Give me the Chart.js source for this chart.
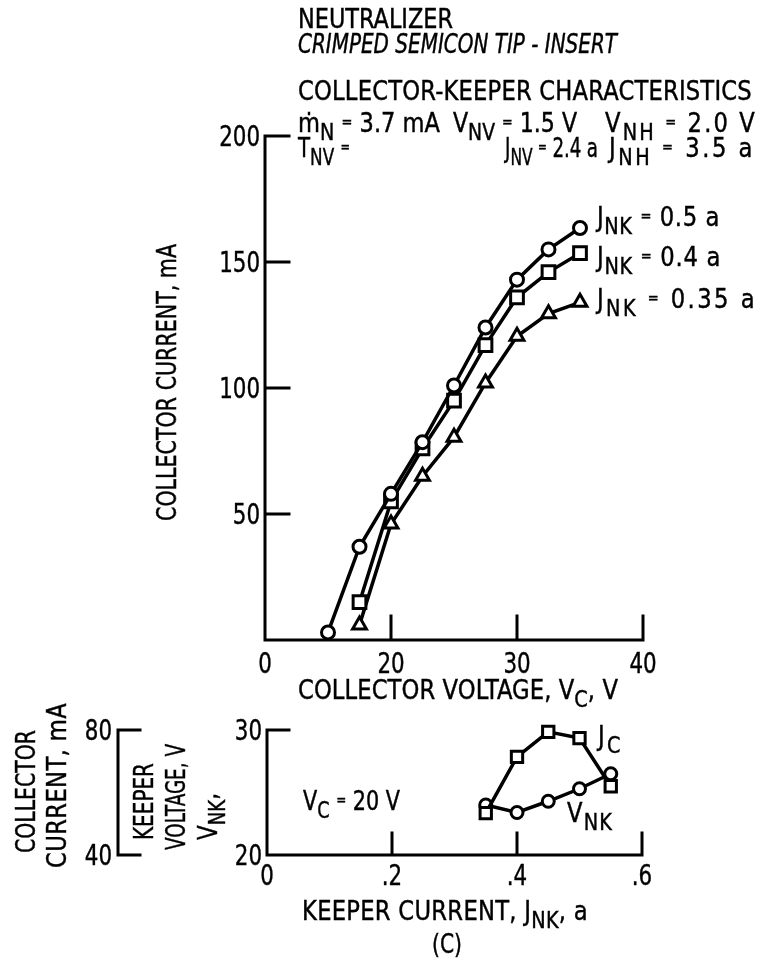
<!DOCTYPE html>
<html>
<head>
<meta charset="utf-8">
<script src="https://cdn.jsdelivr.net/npm/chart.js@4/dist/chart.umd.min.js"></script>
<style>
  html, body { margin: 0; padding: 0; background: #fff; }
  body {
    width: 775px; height: 978px; position: relative; overflow: hidden;
    font-family: "DejaVu Sans Condensed", "DejaVu Sans", sans-serif; color: #000;
  }
  canvas { position: absolute; left: 0; }
  #main { top: 0; }
  #keeper { top: 700px; }
  .t {
    position: absolute; font-size: 26px; line-height: 26px; white-space: nowrap;
    -webkit-text-stroke: 0.4px #000; transform-origin: 0 0;
  }
  .t sub { font-size: 0.85em; vertical-align: -0.38em; line-height: 0; }
  .t .eq { font-size: 15px; vertical-align: 5px; line-height: 0; }
  .it { font-style: italic; }
</style>
</head>
<body>
<canvas id="main" width="775" height="700"></canvas>
<canvas id="keeper" width="775" height="278"></canvas>

<!-- horizontal labels: top = baseline - 22, data-w = printed width -->
<div class="t" data-w="155" style="left:298px; top:6px;">NEUTRALIZER</div>
<div class="t it" data-w="319" style="left:298px; top:31px;">CRIMPED SEMICON TIP - INSERT</div>
<div class="t" data-w="454" style="left:298px; top:78px;">COLLECTOR-KEEPER CHARACTERISTICS</div>
<div class="t" data-w="142" style="left:298px; top:110px;">ṁ<sub>N</sub> <span class="eq">=</span> 3.7 mA</div>
<div class="t" data-w="124" style="left:453px; top:110px;">V<sub>NV</sub> <span class="eq">=</span> 1.5 V</div>
<div class="t" data-w="152" style="left:605px; top:110px;">V<sub>NH</sub> <span class="eq">=</span> 2.0 V</div>
<div class="t" data-w="52" style="left:298px; top:135px;">T<sub>NV</sub> <span class="eq">=</span></div>
<div class="t" data-w="93" style="left:505px; top:135px;">J<sub>NV</sub> <span class="eq">=</span> 2.4 a</div>
<div class="t" data-w="146" style="left:609px; top:135px;">J<sub>NH</sub> <span class="eq">=</span> 3.5 a</div>

<div class="t" data-w="123" style="left:597px; top:204px;">J<sub>NK</sub> <span class="eq">=</span> 0.5 a</div>
<div class="t" data-w="124" style="left:597px; top:244px;">J<sub>NK</sub> <span class="eq">=</span> 0.4 a</div>
<div class="t" data-w="160" style="left:597px; top:286px;">J<sub>NK</sub> <span class="eq">=</span> 0.35 a</div>

<div class="t" data-w="320" style="left:298px; top:677px;">COLLECTOR VOLTAGE, V<sub>C</sub>, V</div>

<div class="t" data-w="97" style="left:303px; top:788px;">V<sub>C</sub> <span class="eq">=</span> 20 V</div>
<div class="t" data-w="25" style="left:598px; top:723px;">J<sub>C</sub></div>
<div class="t" data-w="46" style="left:567px; top:800px;">V<sub>NK</sub></div>
<div class="t" data-w="286" style="left:302px; top:898px;">KEEPER CURRENT, J<sub>NK</sub>, a</div>
<div class="t" data-w="30" style="left:432px; top:931px;">(C)</div>

<!-- rotated labels: left = line box left, top = where the text starts (bottom) -->
<div class="t" data-w="277" data-rot="1" style="left:154px; top:521px;">COLLECTOR CURRENT, mA</div>
<div class="t" data-w="123" data-rot="1" style="left:13px; top:853px;">COLLECTOR</div>
<div class="t" data-w="165" data-rot="1" style="left:44px; top:868px;">CURRENT, mA</div>
<div class="t" data-w="77" data-rot="1" style="left:131px; top:840px;">KEEPER</div>
<div class="t" data-w="106" data-rot="1" style="left:163px; top:850px;">VOLTAGE, V</div>
<div class="t" data-w="47" data-rot="1" style="left:195px; top:840px;">V<sub>NK</sub>,</div>

<script>
// collector characteristics, one series per keeper current
const collectorVoltage = [15, 17.5, 20, 22.5, 25, 27.5, 30, 32.5, 35];
const currentKeeper050 = [3, 37, 58, 78.5, 101, 124, 143, 155, 163.5];
const currentKeeper040 = [null, 15, 55, 76, 95, 117, 136, 146, 153.5];
const currentKeeper035 = [null, 6, 46, 65, 80.5, 102, 120.5, 129.5, 134];

// axis values and the labels printed at them (the voltage axis starts at 10 but reads "0")
const voltageTickValues = [10, 20, 30, 40];
const voltageTickLabels = ['0', '20', '30', '40'];
const currentTickValues = [50, 100, 150, 200];
const currentTickLabels = ['50', '100', '150', '200'];

// keeper sweep at V_C = 20 V
const keeperCurrent = [0.35, 0.40, 0.45, 0.50, 0.55];
const collectorCurrentAt20V = [53.4, 71.4, 79.4, 77.4, 62];
const keeperVoltage = [24, 23.4, 24.3, 25.3, 26.5];

const keeperTickValues = [0, 0.2, 0.4, 0.6];
const keeperTickLabels = ['0', '.2', '.4', '.6'];
const keeperVoltageTickValues = [20, 30];
const keeperVoltageTickLabels = ['20', '30'];
const bracketTickValues = [40, 80];
const bracketTickLabels = ['40', '80'];

const FONT = '"DejaVu Sans Condensed", "DejaVu Sans", sans-serif';

const clamp = (v, lo, hi) => Math.min(hi, Math.max(lo, v));

// fit each html label to its printed width: narrow the glyphs a little,
// spread any slack over the letters, or tighten the word gaps
document.querySelectorAll('.t[data-w]').forEach(el => {
  const target = +el.dataset.w;
  const w0 = el.getBoundingClientRect().width;
  const chars = el.textContent.length;
  const gaps = (el.textContent.match(/ /g) || []).length;
  const s0 = clamp(target / w0, 0.78, 0.97);
  const extra = target / s0 - w0;
  if (extra > 0) {
    el.style.letterSpacing = (extra / chars).toFixed(2) + 'px';
  } else if (gaps) {
    el.style.wordSpacing = Math.max(extra / gaps, -3).toFixed(1) + 'px';
  }
  const s = clamp(target / el.getBoundingClientRect().width, 0.75, 1);
  el.style.transform = (el.dataset.rot ? 'rotate(-90deg) ' : '') + 'scaleX(' + s.toFixed(3) + ')';
});

function toPoints(xs, ys) {
  const pts = [];
  xs.forEach((x, i) => { if (ys[i] != null) pts.push({ x: x, y: ys[i] }); });
  return pts;
}

function series(data, style, radius, yAxisID) {
  return {
    data: data,
    yAxisID: yAxisID || 'y',
    showLine: true,
    borderColor: '#000',
    borderWidth: 3.5,
    pointStyle: style,
    pointRadius: radius,
    pointBorderWidth: 3,
    pointBackgroundColor: '#fff',
    pointBorderColor: '#000',
    tension: 0,
    clip: false,
  };
}

// tick numbers are narrower than the font, so squeeze them horizontally
function label(ctx, text, x, y, align) {
  const w = ctx.measureText(text).width * 0.85;
  const x0 = align === 'right' ? x - w : x - w / 2;
  ctx.save();
  ctx.translate(x0, y);
  ctx.scale(0.85, 1);
  ctx.textAlign = 'left';
  ctx.fillText(text, 0, 0);
  ctx.strokeText(text, 0, 0);
  ctx.restore();
}

// L-shaped axes with inward ticks, labels drawn from the scales
const axisFrame = {
  id: 'axisFrame',
  beforeDatasetsDraw(chart, args, opts) {
    const ctx = chart.ctx;
    const xs = chart.scales.x, ys = chart.scales.y;
    const left = xs.getPixelForValue(xs.min), right = xs.getPixelForValue(xs.max);
    const bottom = ys.getPixelForValue(ys.min), top = ys.getPixelForValue(ys.max);
    const len = opts.tickLength;

    ctx.save();
    ctx.strokeStyle = '#000';
    ctx.lineWidth = 3;
    ctx.lineCap = 'square';
    ctx.beginPath();
    ctx.moveTo(left, top);
    ctx.lineTo(left, bottom);
    ctx.lineTo(right, bottom);
    opts.xMarks.forEach(v => {
      const px = xs.getPixelForValue(v);
      ctx.moveTo(px, bottom);
      ctx.lineTo(px, bottom - len);
    });
    opts.yMarks.forEach(v => {
      const py = ys.getPixelForValue(v);
      ctx.moveTo(left, py);
      ctx.lineTo(left + len, py);
    });
    ctx.stroke();

    // second current scale shown as a bracket left of the voltage axis
    if (opts.bracket) {
      const s = chart.scales[opts.bracket.scale];
      const bx = opts.bracket.x;
      const y0 = s.getPixelForValue(s.min), y1 = s.getPixelForValue(s.max);
      ctx.beginPath();
      ctx.moveTo(bx + len, y1);
      ctx.lineTo(bx, y1);
      ctx.lineTo(bx, y0);
      ctx.lineTo(bx + len, y0);
      ctx.stroke();
    }

    ctx.fillStyle = '#000';
    ctx.lineWidth = 0.4;
    ctx.font = opts.fontSize + 'px ' + FONT;
    ctx.textBaseline = 'alphabetic';
    const lift = opts.fontSize * 0.36;
    opts.xValues.forEach((v, i) => {
      label(ctx, opts.xLabels[i], xs.getPixelForValue(v), bottom + opts.xLabelOffset, 'center');
    });
    opts.yValues.forEach((v, i) => {
      label(ctx, opts.yLabels[i], left - 5, ys.getPixelForValue(v) + lift, 'right');
    });
    if (opts.bracket) {
      const s = chart.scales[opts.bracket.scale];
      opts.bracket.values.forEach((v, i) => {
        label(ctx, opts.bracket.labels[i], opts.bracket.x - 6, s.getPixelForValue(v) + lift, 'right');
      });
    }
    ctx.restore();
  }
};

const common = {
  responsive: false,
  animation: false,
  events: [],
  plugins: { legend: { display: false }, tooltip: { enabled: false } },
};

new Chart(document.getElementById('main'), {
  type: 'scatter',
  data: {
    datasets: [
      series(toPoints(collectorVoltage, currentKeeper050), 'circle', 6.5),
      series(toPoints(collectorVoltage, currentKeeper040), 'rect', 9),
      series(toPoints(collectorVoltage, currentKeeper035), 'triangle', 8),
    ]
  },
  options: {
    ...common,
    layout: { padding: { left: 265, right: 132, top: 136, bottom: 60 } },
    scales: {
      x: { type: 'linear', min: 10, max: 40, display: false },
      y: { type: 'linear', min: 0, max: 200, display: false },
    },
    plugins: {
      ...common.plugins,
      axisFrame: {
        tickLength: 24, fontSize: 28, xLabelOffset: 33,
        xValues: voltageTickValues, xLabels: voltageTickLabels, xMarks: [20, 30, 40],
        yValues: currentTickValues, yLabels: currentTickLabels, yMarks: currentTickValues,
      }
    }
  },
  plugins: [axisFrame]
});

new Chart(document.getElementById('keeper'), {
  type: 'scatter',
  data: {
    datasets: [
      series(toPoints(keeperCurrent, collectorCurrentAt20V), 'rect', 8, 'y2'),
      series(toPoints(keeperCurrent, keeperVoltage), 'circle', 6, 'y'),
    ]
  },
  options: {
    ...common,
    layout: { padding: { left: 267, right: 133, top: 30, bottom: 123 } },
    scales: {
      x: { type: 'linear', min: 0, max: 0.6, display: false },
      y: { type: 'linear', min: 20, max: 30, display: false },
      y2: { type: 'linear', min: 40, max: 80, display: false },
    },
    plugins: {
      ...common.plugins,
      axisFrame: {
        tickLength: 22, fontSize: 28, xLabelOffset: 30,
        xValues: keeperTickValues, xLabels: keeperTickLabels, xMarks: [0.2, 0.4, 0.6],
        yValues: keeperVoltageTickValues, yLabels: keeperVoltageTickLabels, yMarks: [30],
        bracket: { scale: 'y2', x: 118, values: bracketTickValues, labels: bracketTickLabels },
      }
    }
  },
  plugins: [axisFrame]
});
</script>
</body>
</html>
